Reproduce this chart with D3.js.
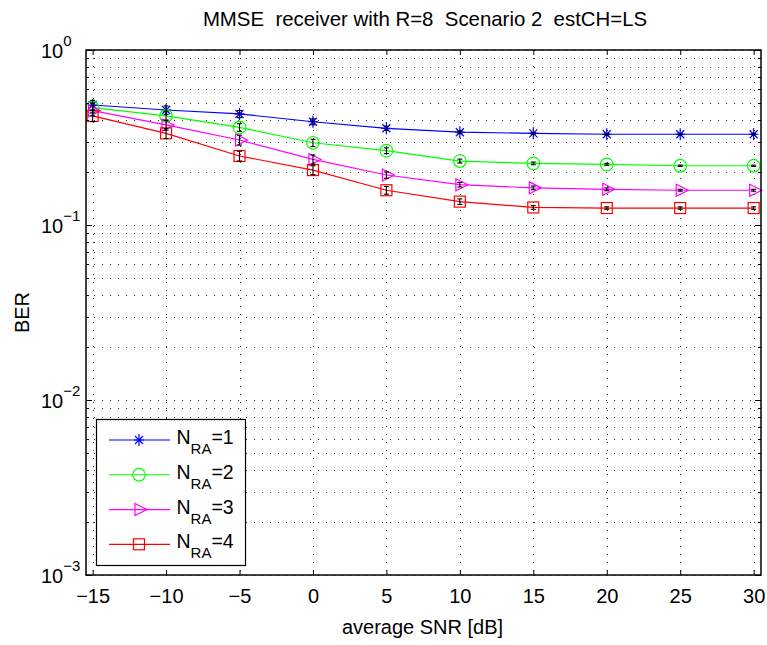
<!DOCTYPE html>
<html>

<head>
  <meta charset="utf-8">
  <title>BER vs SNR</title>
  <style type="text/css">
    body {
      margin: 0;
      background: #fff;
    }

    svg text {
      font-family: "Liberation Sans", Arial, Helvetica, sans-serif;
      fill: #000;
      white-space: pre;
    }
  </style>
</head>

<body>
  <div id="chart"></div>
  <script type="text/javascript" src="https://cdn.jsdelivr.net/npm/d3@7/dist/d3.min.js"></script>
  <script type="text/javascript">
    // values
    var snr = [-15, -10, -5, 0, 5, 10, 15, 20, 25, 30];
    var berNra1 = [0.485, 0.454, 0.431, 0.389, 0.357, 0.339, 0.334, 0.330, 0.330, 0.330];
    var berNra2 = [0.468, 0.420, 0.361, 0.295, 0.266, 0.232, 0.225, 0.222, 0.218, 0.218];
    var berNra3 = [0.450, 0.373, 0.306, 0.237, 0.193, 0.170, 0.163, 0.160, 0.158, 0.158];
    var berNra4 = [0.420, 0.334, 0.248, 0.206, 0.158, 0.136, 0.126, 0.125, 0.125, 0.125];
    // half width of the error bars
    var errNra1 = [0.030, 0.025, 0.020, 0.015, 0.010, 0.006, 0.004, 0.003, 0.002, 0.002];
    var errNra2 = [0.030, 0.025, 0.018, 0.014, 0.010, 0.006, 0.004, 0.003, 0.002, 0.002];
    var errNra3 = [0.030, 0.025, 0.020, 0.014, 0.008, 0.005, 0.004, 0.003, 0.002, 0.002];
    var errNra4 = [0.030, 0.022, 0.016, 0.012, 0.008, 0.005, 0.003, 0.002, 0.002, 0.002];
    var seriesNames = ["1", "2", "3", "4"];
    var xTicks = [-15, -10, -5, 0, 5, 10, 15, 20, 25, 30];
    var yDecades = [1e-3, 1e-2, 1e-1, 1];
    var yDecadeLabels = ["\u22123", "\u22122", "\u22121", "0"];

    var w = 767,
      h = 645,
      pLeft = 86,
      pRight = 761,
      pTop = 50,
      pBottom = 575;

    var series = [
      { name: seriesNames[0], y: berNra1, e: errNra1, color: "#0000ff", marker: "star" },
      { name: seriesNames[1], y: berNra2, e: errNra2, color: "#00ff00", marker: "circle" },
      { name: seriesNames[2], y: berNra3, e: errNra3, color: "#ff00ff", marker: "tri" },
      { name: seriesNames[3], y: berNra4, e: errNra4, color: "#ff0000", marker: "square" }
    ];

    var x = d3.scaleLinear().domain([-15.45, 30.5]).range([pLeft, pRight]);
    var y = d3.scaleLog().domain([1e-3, 1]).range([pBottom, pTop]);

    var svg = d3.select("#chart").append("svg")
      .attr("width", w)
      .attr("height", h);

    // grid
    var grid = svg.append("g")
      .attr("stroke", "#333")
      .attr("stroke-width", 1)
      .attr("stroke-dasharray", "1,7");

    grid.selectAll("line.gx")
      .data(xTicks)
      .enter().append("line")
      .attr("class", "gx")
      .attr("x1", function (d) { return Math.round(x(d)) + 0.5; })
      .attr("x2", function (d) { return Math.round(x(d)) + 0.5; })
      .attr("y1", pTop)
      .attr("y2", pBottom);

    grid.selectAll("line.gy")
      .data(y.ticks())
      .enter().append("line")
      .attr("class", "gy")
      .attr("x1", pLeft)
      .attr("x2", pRight)
      .attr("y1", function (d) { return Math.round(y(d)) + 0.5; })
      .attr("y2", function (d) { return Math.round(y(d)) + 0.5; });

    // lines
    var line = d3.line()
      .x(function (d, i) { return x(snr[i]); })
      .y(function (d) { return y(d); });

    series.forEach(function (s) {
      svg.append("path")
        .attr("d", line(s.y))
        .attr("fill", "none")
        .attr("stroke", s.color)
        .attr("stroke-width", 1.2);
    });

    function drawMarker(g, type, color) {
      if (type === "star") {
        g.append("path")
          .attr("d", "M0,-6V6M-5,0H5M-4,-4L4,4M-4,4L4,-4")
          .attr("stroke", color).attr("stroke-width", 1.2).attr("fill", "none");
      } else if (type === "circle") {
        g.append("circle").attr("r", 6.3)
          .attr("stroke", color).attr("stroke-width", 1.2).attr("fill", "none");
      } else if (type === "tri") {
        g.append("path").attr("d", "M-4,-6L8,0L-4,6Z")
          .attr("stroke", color).attr("stroke-width", 1.2).attr("fill", "none");
      } else {
        g.append("rect").attr("x", -5.5).attr("y", -5.5).attr("width", 11).attr("height", 11)
          .attr("stroke", color).attr("stroke-width", 1.2).attr("fill", "none");
      }
    }

    // markers
    series.forEach(function (s) {
      s.y.forEach(function (v, i) {
        var g = svg.append("g")
          .attr("transform", "translate(" + x(snr[i]) + "," + y(v) + ")");
        drawMarker(g, s.marker, s.color);
      });
    });

    // error bars
    series.forEach(function (s) {
      var eb = svg.append("g").attr("stroke", "#000").attr("stroke-width", 1.1);
      s.y.forEach(function (v, i) {
        var cx = x(snr[i]), y1 = y(v - s.e[i]), y2 = y(v + s.e[i]);
        eb.append("line").attr("x1", cx).attr("x2", cx).attr("y1", y1).attr("y2", y2);
        eb.append("line").attr("x1", cx - 2.5).attr("x2", cx + 2.5).attr("y1", y1).attr("y2", y1);
        eb.append("line").attr("x1", cx - 2.5).attr("x2", cx + 2.5).attr("y1", y2).attr("y2", y2);
      });
    });

    // axes, ticks inward on all four sides
    var xAxis = svg.append("g")
      .attr("transform", "translate(0," + pBottom + ")")
      .call(d3.axisBottom(x).tickValues(xTicks).tickSizeInner(-5).tickSizeOuter(0));
    xAxis.select(".domain").remove();
    xAxis.selectAll("text")
      .attr("y", 27.5).attr("dy", 0)
      .style("font-size", "20px");
    xAxis.selectAll("line").attr("stroke-width", 1);

    var xTop = svg.append("g")
      .attr("transform", "translate(0," + pTop + ")")
      .call(d3.axisTop(x).tickValues(xTicks).tickSizeInner(-5).tickSizeOuter(0).tickFormat(""));
    xTop.select(".domain").remove();

    var ticksY = svg.append("g").attr("stroke", "#000").attr("stroke-width", 1);
    y.ticks().forEach(function (t) {
      var major = Math.abs(Math.log10(t) - Math.round(Math.log10(t))) < 1e-9;
      var len = major ? 6 : 3;
      var yy = Math.round(y(t)) + 0.5;
      ticksY.append("line").attr("x1", pLeft).attr("x2", pLeft + len).attr("y1", yy).attr("y2", yy);
      ticksY.append("line").attr("x1", pRight).attr("x2", pRight - len).attr("y1", yy).attr("y2", yy);
    });

    // y tick labels 10^k
    yDecades.forEach(function (d, i) {
      var t = svg.append("text")
        .attr("x", 41)
        .attr("y", y(d) + 7.6)
        .style("font-size", "20px");
      t.append("tspan").text("10");
      t.append("tspan").attr("dy", -11.5).style("font-size", "15px").text(yDecadeLabels[i]);
    });

    // box
    svg.append("rect")
      .attr("x", pLeft).attr("y", pTop)
      .attr("width", pRight - pLeft).attr("height", pBottom - pTop)
      .attr("fill", "none").attr("stroke", "#000").attr("stroke-width", 1.5);

    // title and labels
    svg.append("text")
      .attr("x", (pLeft + pRight) / 2 + 1.5).attr("y", 25.7)
      .attr("text-anchor", "middle")
      .style("font-size", "20.4px")
      .text("MMSE  receiver with R=8  Scenario 2  estCH=LS");

    svg.append("text")
      .attr("x", (pLeft + pRight) / 2 - 1).attr("y", 634)
      .attr("text-anchor", "middle")
      .style("font-size", "20px")
      .text("average SNR [dB]");

    svg.append("text")
      .attr("transform", "translate(29," + (pTop + pBottom) / 2 + ") rotate(-90)")
      .attr("text-anchor", "middle")
      .style("font-size", "20px")
      .text("BER");

    // legend
    var lg = svg.append("g");
    lg.append("rect")
      .attr("x", 96.5).attr("y", 419.5).attr("width", 149).attr("height", 146)
      .attr("fill", "#fff").attr("stroke", "#000").attr("stroke-width", 1.2);

    var rowY = d3.scalePoint().domain(seriesNames).range([440, 544.3]);
    series.forEach(function (s) {
      var cy = rowY(s.name);
      lg.append("line")
        .attr("x1", 109).attr("x2", 170).attr("y1", cy).attr("y2", cy)
        .attr("stroke", s.color).attr("stroke-width", 1.2);
      var g = lg.append("g").attr("transform", "translate(139," + cy + ")");
      drawMarker(g, s.marker, s.color);
      var t = lg.append("text")
        .attr("x", 176.5).attr("y", cy + 4)
        .style("font-size", "19.5px");
      t.append("tspan").text("N");
      t.append("tspan").attr("dy", 10).style("font-size", "15px").text("RA");
      t.append("tspan").attr("dy", -10).text("=" + s.name);
    });
  </script>
</body>

</html>
